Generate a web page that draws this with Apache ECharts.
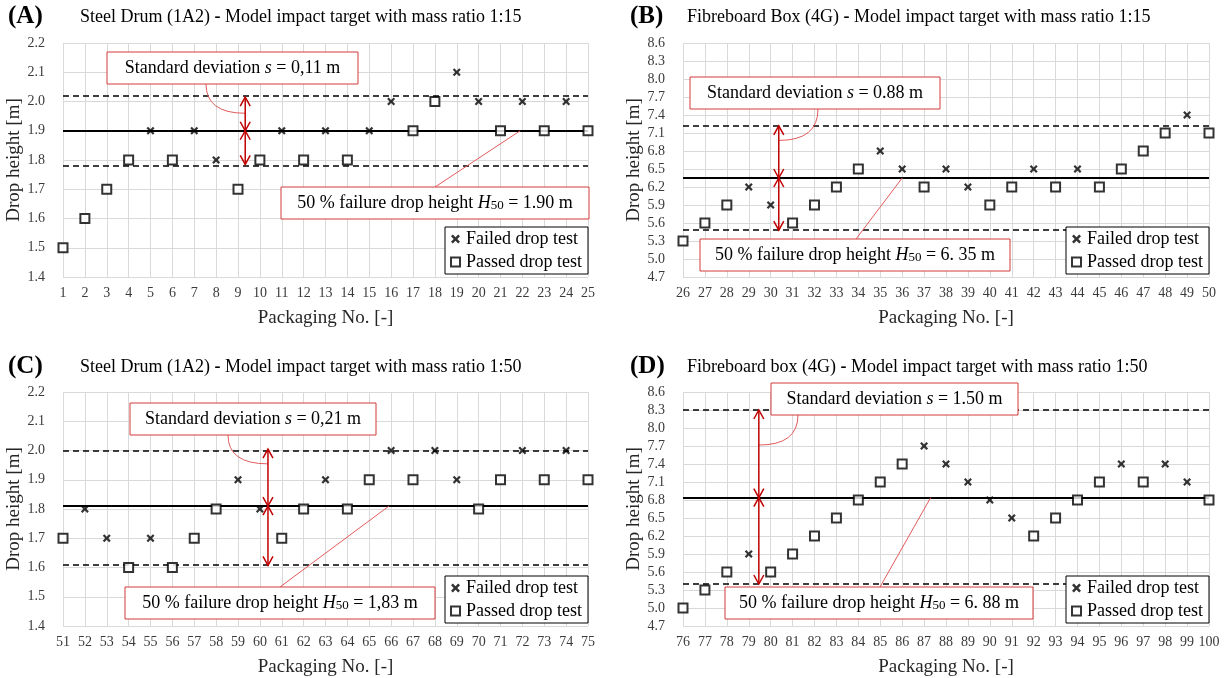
<!DOCTYPE html>
<html>
<head>
<meta charset="utf-8">
<script src="https://cdn.jsdelivr.net/npm/echarts@6/dist/echarts.min.js"></script>
<style>
  html, body { margin: 0; background: #fff; }
  #chart { width: 1224px; height: 678px; }
</style>
</head>
<body>
<div id="chart"></div>
<script>
// drop heights per packaging, F = failed, P = passed
const firstNo = [1, 26, 51, 76];
const heightsA = [1.5, 1.6, 1.7, 1.8, 1.9, 1.8, 1.9, 1.8, 1.7, 1.8, 1.9, 1.8, 1.9, 1.8, 1.9, 2.0, 1.9, 2.0, 2.1, 2.0, 1.9, 2.0, 1.9, 2.0, 1.9];
const outcomeA = ['P','P','P','P','F','P','F','F','P','P','F','P','F','P','F','F','P','P','F','F','P','F','P','F','P'];
const heightsB = [5.3, 5.6, 5.9, 6.2, 5.9, 5.6, 5.9, 6.2, 6.5, 6.8, 6.5, 6.2, 6.5, 6.2, 5.9, 6.2, 6.5, 6.2, 6.5, 6.2, 6.5, 6.8, 7.1, 7.4, 7.1];
const outcomeB = ['P','P','P','F','F','P','P','P','P','F','F','P','F','F','P','P','F','P','F','P','P','P','P','F','P'];
const heightsC = [1.7, 1.8, 1.7, 1.6, 1.7, 1.6, 1.7, 1.8, 1.9, 1.8, 1.7, 1.8, 1.9, 1.8, 1.9, 2.0, 1.9, 2.0, 1.9, 1.8, 1.9, 2.0, 1.9, 2.0, 1.9];
const outcomeC = ['P','F','F','P','F','P','P','P','F','F','P','P','F','P','P','F','P','F','F','P','P','F','P','F','P'];
const heightsD = [5.0, 5.3, 5.6, 5.9, 5.6, 5.9, 6.2, 6.5, 6.8, 7.1, 7.4, 7.7, 7.4, 7.1, 6.8, 6.5, 6.2, 6.5, 6.8, 7.1, 7.4, 7.1, 7.4, 7.1, 6.8];
const outcomeD = ['P','P','P','F','P','P','P','P','P','P','P','F','F','F','F','F','P','P','P','P','F','P','F','F','P'];

// H50 line and +/- s lines as drawn
const meanLine = [1.90, 6.35, 1.81, 6.84];
const upperLine = [2.015, 7.22, 2.005, 8.3];
const lowerLine = [1.785, 5.48, 1.607, 5.4];

// y axis ranges
const yMin = [1.4, 4.7, 1.4, 4.7];
const yMax = [2.2, 8.6, 2.2, 8.6];
const yStep = [0.1, 0.3, 0.1, 0.3];

const panelTags = ['(A)', '(B)', '(C)', '(D)'];
const panelTitles = [
  ['Steel Drum (1A2) ', ' Model impact target with mass ratio 1:15'],
  ['Fibreboard Box (4G) ', ' Model impact target with mass ratio 1:15'],
  ['Steel Drum (1A2) ', ' Model impact target with mass ratio 1:50'],
  ['Fibreboard box (4G) ', ' Model impact target with mass ratio 1:50']
];
const sdText = ['0,11', '0.88', '0,21', '1.50'];
const h50Text = ['1.90', '6. 35', '1,83', '6. 88'];

// where the arrows and leader lines sit (packaging no.)
const arrowNo = [9.33, 30.37, 60.37, 79.46];
const h50LeaderNo = [21.9, 36, 65.9, 87.3];

const heights = [heightsA, heightsB, heightsC, heightsD];
const outcomes = [outcomeA, outcomeB, outcomeC, outcomeD];

const FONT = 'Liberation Serif';
const crossPath = 'path://M0,2L2,0L5,3L8,0L10,2L7,5L10,8L8,10L5,7L2,10L0,8L3,5Z';

const grids = [
  { left: 63, top: 43, width: 525, height: 234 },
  { left: 683, top: 43, width: 526, height: 234 },
  { left: 63, top: 392, width: 525, height: 234 },
  { left: 683, top: 392, width: 526, height: 234 }
];

const xAxes = [], yAxes = [], series = [], titles = [], legends = [];

grids.forEach((g, i) => {
  xAxes.push({
    gridIndex: i, type: 'value',
    min: firstNo[i], max: firstNo[i] + 24, interval: 1,
    name: 'Packaging No. [-]', nameLocation: 'middle', nameGap: 32,
    nameTextStyle: { fontFamily: FONT, fontSize: 19, color: '#262626' },
    axisLine: { show: false }, axisTick: { show: false },
    axisLabel: { fontFamily: FONT, fontSize: 14, color: '#3a3a3a', margin: 9 },
    splitLine: { show: true, lineStyle: { color: '#d9d9d9', width: 1 } }
  });
  yAxes.push({
    gridIndex: i, type: 'value',
    min: yMin[i], max: yMax[i], interval: yStep[i],
    name: 'Drop height [m]', nameLocation: 'middle', nameGap: 33,
    nameTextStyle: { fontFamily: FONT, fontSize: 19, color: '#262626' },
    axisLine: { show: false }, axisTick: { show: false },
    axisLabel: { fontFamily: FONT, fontSize: 14, color: '#3a3a3a', margin: 18,
      formatter: v => v.toFixed(1) },
    splitLine: { show: true, lineStyle: { color: '#d9d9d9', width: 1 } }
  });

  const failed = [], passed = [];
  heights[i].forEach((h, k) => {
    const pt = [firstNo[i] + k, h];
    if (outcomes[i][k] === 'F') failed.push(pt); else passed.push(pt);
  });

  series.push({
    name: 'Failed drop test', type: 'scatter', xAxisIndex: i, yAxisIndex: i,
    symbol: crossPath, symbolSize: 8, z: 5,
    itemStyle: { color: '#000' },
    data: failed,
    markLine: {
      silent: true, symbol: 'none', label: { show: false },
      data: [
        { yAxis: meanLine[i], lineStyle: { color: '#000', width: 2, type: 'solid' } },
        { yAxis: upperLine[i], lineStyle: { color: '#000', width: 1.6, type: [6, 4] } },
        { yAxis: lowerLine[i], lineStyle: { color: '#000', width: 1.6, type: [6, 4] } }
      ]
    }
  });
  series.push({
    name: 'Passed drop test', type: 'scatter', xAxisIndex: i, yAxisIndex: i,
    symbol: 'rect', symbolSize: 9, z: 5,
    itemStyle: { color: '#fff', borderColor: '#000', borderWidth: 2 },
    data: passed
  });

  const col = i % 2 === 0 ? 3 : 625;
  const row = i < 2 ? 0 : 350;
  titles.push({
    text: panelTags[i], left: col, top: row - 1,
    textStyle: { fontFamily: FONT, fontSize: 25, fontWeight: 'bold', color: '#000' }
  });
  titles.push({
    text: '{n|' + panelTitles[i][0] + '}{b|-}{n|' + panelTitles[i][1] + '}',
    left: col + (i % 2 === 0 ? 72 : 57), top: row + 3,
    textStyle: {
      fontWeight: 'normal',
      rich: {
        n: { fontFamily: FONT, fontSize: 18, fontWeight: 'normal', color: '#000' },
        b: { fontFamily: FONT, fontSize: 18, fontWeight: 'bold', color: '#000' }
      }
    }
  });

  legends.push({
    orient: 'vertical', z: 20,
    right: 1224 - g.left - g.width, top: g.top + g.height - 50,
    data: ['Failed drop test', 'Passed drop test'],
    itemWidth: 9, itemHeight: 9, itemGap: 5,
    padding: [3, 6, 3, 5],
    backgroundColor: '#fff', borderColor: '#000', borderWidth: 1,
    textStyle: { fontFamily: FONT, fontSize: 18, color: '#000', padding: [0, 0, 0, 1] },
    selectedMode: false
  });
});

const chart = echarts.init(document.getElementById('chart'));
chart.setOption({
  backgroundColor: '#fff',
  animation: false,
  title: titles,
  legend: legends,
  grid: grids,
  xAxis: xAxes,
  yAxis: yAxes,
  series: series
});

// annotation boxes (pixel layout)
const sdBox = [[107, 52, 251], [690, 77, 250], [130, 403, 246], [771, 383, 247]];
const h50Box = [[281, 187, 308], [700, 239, 310], [125, 587, 310], [725, 587, 308]];
const sdLeaderStartX = [206, 818, 228, 798];
const sdLeaderFrac = [0.48, 0.28, 0.26, 0.40];
const h50LeaderStartX = [435, 856, 280, 880];

const RED = '#c00000';
const LIGHTRED = '#e35b5b';
const gfx = [];
const boxRich = {
  a: { fontFamily: FONT, fontSize: 18, color: '#000' },
  i: { fontFamily: FONT, fontSize: 18, fontStyle: 'italic', color: '#000' },
  s: { fontFamily: FONT, fontSize: 13, color: '#000', verticalAlign: 'bottom', padding: [6, 0, 0, 0] }
};

function addBox(x, y, w, text) {
  gfx.push({
    type: 'rect', z: 100,
    shape: { x: x, y: y, width: w, height: 32 },
    style: { fill: '#fff', stroke: '#d23b3b', lineWidth: 1 }
  });
  gfx.push({
    type: 'text', z: 101, x: x + w / 2, y: y + 16,
    style: { text: text, align: 'center', verticalAlign: 'middle', rich: boxRich }
  });
}

function vArrow(x, yTip, dir) {
  // dir = 1: points up, dir = -1: points down
  gfx.push({
    type: 'polyline', z: 90,
    shape: { points: [[x - 5, yTip + dir * 9], [x, yTip], [x + 5, yTip + dir * 9]] },
    style: { stroke: RED, lineWidth: 1.5, fill: null }
  });
}

for (let i = 0; i < 4; i++) {
  const up = chart.convertToPixel({ gridIndex: i }, [arrowNo[i], upperLine[i]]);
  const mid = chart.convertToPixel({ gridIndex: i }, [arrowNo[i], meanLine[i]]);
  const low = chart.convertToPixel({ gridIndex: i }, [arrowNo[i], lowerLine[i]]);
  const x = up[0];

  gfx.push({
    type: 'line', z: 90,
    shape: { x1: x, y1: up[1], x2: x, y2: low[1] },
    style: { stroke: RED, lineWidth: 1.5 }
  });
  vArrow(x, up[1], 1);
  vArrow(x, mid[1], -1);
  vArrow(x, mid[1], 1);
  vArrow(x, low[1], -1);

  // curved leader from SD box to upper arrow
  const b = sdBox[i];
  const sx = sdLeaderStartX[i], sy = b[1] + 32;
  const ey = up[1] + (mid[1] - up[1]) * sdLeaderFrac[i];
  gfx.push({
    type: 'bezierCurve', z: 89,
    shape: { x1: sx, y1: sy, x2: x, y2: ey, cpx1: sx, cpy1: ey },
    style: { stroke: LIGHTRED, lineWidth: 1, fill: null }
  });

  // straight leader from H50 box to mean line
  const h = h50Box[i];
  const hp = chart.convertToPixel({ gridIndex: i }, [h50LeaderNo[i], meanLine[i]]);
  gfx.push({
    type: 'line', z: 89,
    shape: { x1: h50LeaderStartX[i], y1: h[1], x2: hp[0], y2: hp[1] },
    style: { stroke: LIGHTRED, lineWidth: 1 }
  });

  addBox(b[0], b[1], b[2], '{a|Standard deviation }{i|s}{a| = ' + sdText[i] + ' m}');
  addBox(h[0], h[1], h[2], '{a|50 % failure drop height }{i|H}{s|50}{a| = ' + h50Text[i] + ' m}');
}

chart.setOption({ graphic: gfx });
</script>
</body>
</html>
